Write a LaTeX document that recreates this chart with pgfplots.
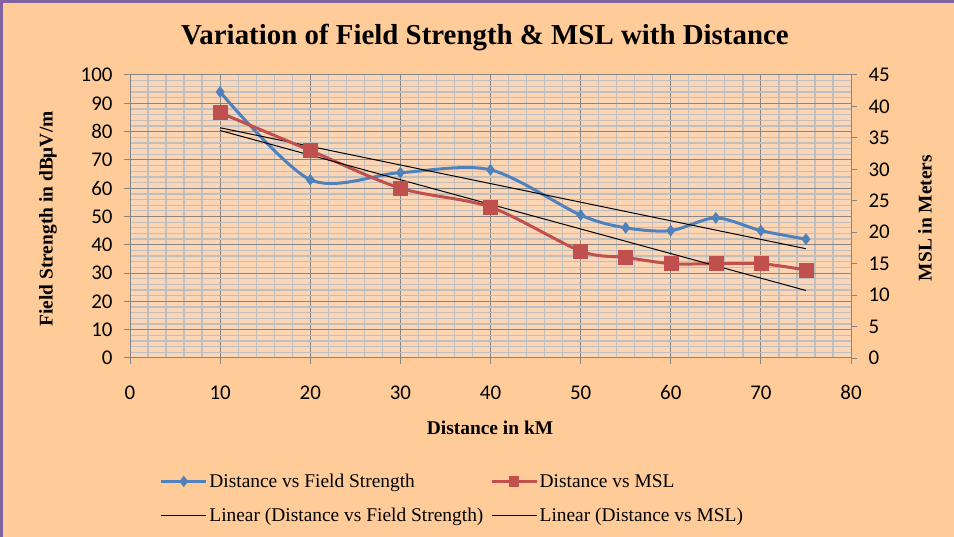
\documentclass[border=0pt]{standalone}
\usepackage{pgfplots}
\usepackage{pgfplotstable}
\pgfplotsset{compat=1.18}
\usepackage{fontspec}
\setmainfont{Liberation Serif}
\newfontfamily\tickfont{Carlito}
\definecolor{outerbg}{RGB}{255,204,153}
\definecolor{innerbg}{RGB}{252,213,180}
\definecolor{fsblue}{RGB}{79,129,189}
\definecolor{mslred}{RGB}{192,80,77}
\definecolor{majgrid}{RGB}{134,134,134}
\definecolor{mingrid}{RGB}{191,191,191}
\definecolor{framecol}{RGB}{128,100,162}

\pgfplotstableread{
x fs msl
10 94 39
20 63 33
30 65.5 27
40 66.5 24
50 50.5 17
55 46 16
60 45 15
65 49.5 15
70 45 15
75 42 14
}\datatable

\pgfplotsset{
  common/.style={
    at={(130bp,179bp)}, anchor=south west,
    scale only axis, width=721bp, height=283bp,
    xmin=0, xmax=80,
    axis line style={majgrid, line width=1bp},
    tick style={majgrid, line width=1bp},
    major tick length=6bp, minor tick length=0bp,
    tick align=outside,
    ticklabel style={font=\tickfont\fontsize{21}{25}\selectfont, text=black},
    /pgf/number format/assume math mode=true,
    legend image code/.code={\draw[mark repeat=2,mark phase=2,##1] plot coordinates {(0bp,0bp) (22.5bp,0bp) (45bp,0bp)};},
  },
}

\begin{document}
\begin{tikzpicture}
\useasboundingbox (0,0) rectangle (954bp,537bp);
\fill[outerbg] (0,0) rectangle (954bp,537bp);
\draw[framecol, line width=2.5bp] (1.5bp,0) -- (1.5bp,535.5bp) -- (954bp,535.5bp);

\node[font=\fontsize{29}{34}\selectfont\bfseries] at (485bp,499bp) {Variation of Field Strength \& MSL with Distance};
\node[font=\fontsize{19.5}{23}\selectfont\bfseries, rotate=90] at (48bp,318bp) {Field Strength in dBμV/m};
\node[font=\fontsize{19.5}{23}\selectfont\bfseries] at (490bp,109bp) {Distance in kM};
\node[font=\fontsize{19.5}{23}\selectfont\bfseries, rotate=90] at (925bp,319bp) {MSL in Meters};

\begin{axis}[common,
  ymin=0, ymax=100,
  xtick={0,10,...,80}, ytick={0,10,...,100},
  minor x tick num=4, minor y tick num=4,
  grid=both,
  major grid style={majgrid, line width=1bp},
  minor grid style={mingrid, line width=1.3bp},
  axis background/.style={fill=innerbg},
  axis y line*=left, axis x line*=bottom,
  xticklabel style={yshift=-18bp},
  yticklabel style={xshift=-8bp},
]
\addplot[fsblue, line width=3bp, smooth, mark=diamond*, mark size=5.5bp, mark options={fill=fsblue, line width=0.5bp}] table[x=x, y=fs] {\datatable};
\addplot[black, line width=1bp, no marks] table[x=x, y={create col/linear regression={y=fs}}] {\datatable};
\end{axis}

\begin{axis}[common,
  ymin=0, ymax=45,
  ytick={0,5,...,45},
  axis y line*=right, axis x line=none,
  yticklabel style={xshift=8bp},
  legend columns=2,
  legend cell align=left,
  legend style={at={(0.0416,-0.402)}, anchor=north west, draw=none, fill=none,
    font=\fontsize{19.5}{23}\selectfont, inner sep=0pt, row sep=15bp,
    /tikz/every even column/.append style={column sep=5bp}},
]
\addlegendimage{fsblue, line width=2.2bp, mark=diamond*, mark size=4bp, mark options={fill=fsblue}}
\addlegendentry{Distance vs Field Strength}
\addplot[mslred, line width=3bp, smooth, mark=square*, mark size=7bp, mark options={fill=mslred, line width=0.5bp}, forget plot] table[x=x, y=msl] {\datatable};
\addlegendimage{mslred, line width=2.2bp, mark=square*, mark size=4bp, mark options={fill=mslred}}
\addlegendentry{Distance vs MSL}
\addlegendimage{black, line width=1bp}
\addlegendentry{Linear (Distance vs Field Strength)}
\addplot[black, line width=1bp, no marks] table[x=x, y={create col/linear regression={y=msl}}] {\datatable};
\addlegendentry{Linear (Distance vs MSL)}
\end{axis}
\end{tikzpicture}
\end{document}
